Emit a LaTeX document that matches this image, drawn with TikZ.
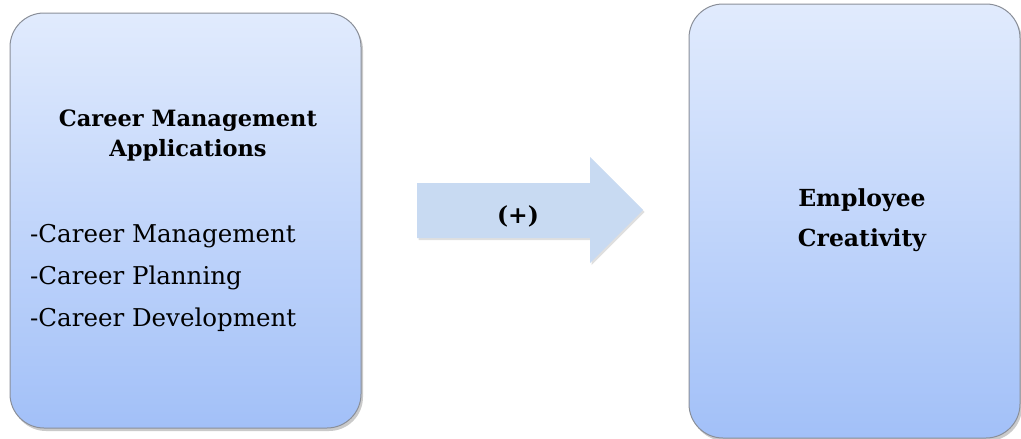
\documentclass[tikz,border=0pt]{standalone}
\usepackage{fontspec}
\setmainfont{DejaVu Serif}
\usetikzlibrary{shadows}
\definecolor{boxtop}{HTML}{E1EBFD}
\definecolor{boxbot}{HTML}{A2C0F8}
\definecolor{boxline}{HTML}{8A8F99}
\definecolor{arrowfill}{HTML}{C8DAF2}
\tikzset{
  card/.style={draw=boxline, line width=1pt, rounded corners=34pt,
    top color=boxtop, bottom color=boxbot,
    drop shadow={shadow xshift=2pt, shadow yshift=-3pt, opacity=0.35, fill=black!60},
    inner sep=0pt},
  title/.style={font=\bfseries\fontsize{22.5}{30}\selectfont, align=center, inner sep=0pt},
  item/.style={font=\fontsize{24.5}{30}\selectfont, anchor=west, inner sep=0pt},
}
\begin{document}
\begin{tikzpicture}[x=1pt, y=-1pt]
\useasboundingbox (0,0) rectangle (1021,439);
% boxes
\node[card, minimum width=351pt, minimum height=415pt] (L) at (185.5,220.5) {};
\node[card, minimum width=331pt, minimum height=434pt] (R) at (854.5,221) {};
% arrow
\fill[arrowfill, drop shadow={shadow xshift=1.5pt, shadow yshift=-2pt, opacity=0.25}]
  (417,183) -- (590,183) -- (590,157) -- (643,210) -- (590,263) -- (590,238) -- (417,238) -- cycle;
\node[title, font=\bfseries\fontsize{23.5}{30}\selectfont] (plus) at (518,216) {(+)};
% texts
\node[title] (lt) at (188,135) {Career Management\\Applications};
\node[item] (i1) at (30,236) {-Career Management};
\node[item] (i2) at (30,278) {-Career Planning};
\node[item] (i3) at (30,320) {-Career Development};
\node[title, font=\bfseries\fontsize{23.5}{40}\selectfont] (rt) at (862,220) {Employee\\Creativity};
\end{tikzpicture}
\end{document}
